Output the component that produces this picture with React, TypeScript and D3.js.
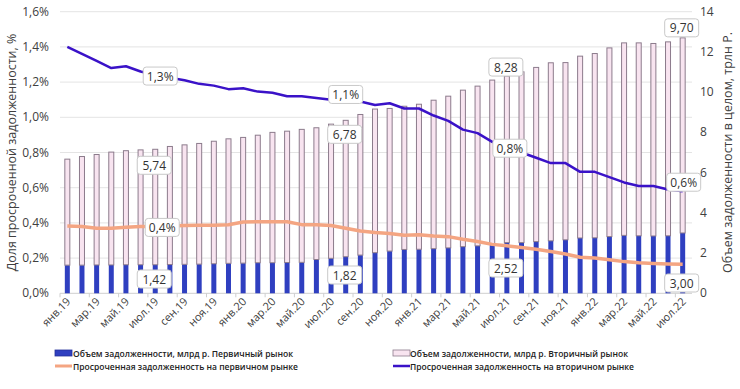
import React from 'react';
import * as d3 from 'd3';

// categories (monthly, янв.19 .. июл.22)
const months = [
  'янв.19', 'фев.19', 'мар.19', 'апр.19', 'май.19', 'июн.19', 'июл.19', 'авг.19', 'сен.19', 'окт.19', 'ноя.19', 'дек.19',
  'янв.20', 'фев.20', 'мар.20', 'апр.20', 'май.20', 'июн.20', 'июл.20', 'авг.20', 'сен.20', 'окт.20', 'ноя.20', 'дек.20',
  'янв.21', 'фев.21', 'мар.21', 'апр.21', 'май.21', 'июн.21', 'июл.21', 'авг.21', 'сен.21', 'окт.21', 'ноя.21', 'дек.21',
  'янв.22', 'фев.22', 'мар.22', 'апр.22', 'май.22', 'июн.22', 'июл.22',
];

// debt volume, трлн р.
const primaryVolume = [
  1.40, 1.40, 1.41, 1.41, 1.42, 1.42, 1.42, 1.43, 1.44, 1.45, 1.47, 1.49, 1.50,
  1.52, 1.52, 1.53, 1.54, 1.68, 1.74, 1.82, 1.90, 2.02, 2.10, 2.18, 2.19, 2.22,
  2.26, 2.32, 2.36, 2.47, 2.52, 2.52, 2.57, 2.61, 2.66, 2.75, 2.76, 2.82, 2.88,
  2.86, 2.85, 2.86, 3.00,
];
const secondaryVolume = [
  5.27, 5.40, 5.49, 5.61, 5.67, 5.71, 5.74, 5.87, 5.94, 6.00, 6.09, 6.19, 6.25,
  6.34, 6.48, 6.53, 6.61, 6.55, 6.67, 6.78, 6.99, 7.14, 7.09, 7.12, 7.21, 7.38,
  7.54, 7.78, 7.94, 8.13, 8.28, 8.49, 8.66, 8.85, 8.81, 9.04, 9.16, 9.38, 9.57,
  9.59, 9.57, 9.64, 9.70,
];

// overdue share, %
const primaryOverdue = [
  0.383, 0.38, 0.37, 0.37, 0.375, 0.38, 0.38, 0.383, 0.385, 0.387, 0.387, 0.39, 0.405,
  0.407, 0.407, 0.407, 0.39, 0.39, 0.385, 0.37, 0.354, 0.345, 0.34, 0.33, 0.333, 0.326,
  0.322, 0.307, 0.294, 0.278, 0.27, 0.26, 0.25, 0.237, 0.223, 0.205, 0.20, 0.19, 0.18,
  0.174, 0.17, 0.167, 0.165,
];
const secondaryOverdue = [
  1.40, 1.36, 1.32, 1.28, 1.29, 1.26, 1.24, 1.225, 1.21, 1.19, 1.18, 1.16, 1.165,
  1.146, 1.14, 1.12, 1.12, 1.11, 1.10, 1.09, 1.09, 1.07, 1.08, 1.05, 1.05, 1.01,
  0.98, 0.93, 0.91, 0.86, 0.83, 0.80, 0.77, 0.74, 0.74, 0.69, 0.69, 0.66, 0.63,
  0.61, 0.61, 0.59, 0.58,
];

const leftTicks = [0, 0.2, 0.4, 0.6, 0.8, 1.0, 1.2, 1.4, 1.6];
const rightTicks = [0, 2, 4, 6, 8, 10, 12, 14];

// data labels: which month, which series, text
const labelMonths = [6, 19, 30, 42];
const primaryLabels = ['1,42', '1,82', '2,52', '3,00'];
const secondaryLabels = ['5,74', '6,78', '8,28', '9,70'];
const secondaryPctLabels = ['1,3%', '1,1%', '0,8%', '0,6%'];
const primaryPctLabel = '0,4%';

const legendItems = [
  'Объем задолженности, млрд р. Первичный рынок',
  'Объем задолженности, млрд р. Вторичный рынок',
  'Просроченная задолженность на первичном рынке',
  'Просроченная задолженность на вторичном рынке',
];

const W = 740;
const H = 389;
const left = 60;
const right = 692;
const top = 11.7;
const bottom = 293.3;

const BLUE = '#2f3fc0';
const PINK = '#f8e4f0';
const PINK_EDGE = '#8c7b8c';
const SALMON = '#f4a582';
const VIOLET = '#3a12c8';
const FONT = '"Open Sans", "Noto Sans", sans-serif';

const fmt = (v: number) => v.toFixed(1).replace('.', ',') + '%';

const Callout = ({ x, y, text }: { x: number; y: number; text: string }) => {
  const w = text.length * 7 + 6;
  const h = 18;
  return (
    <g>
      <rect x={x - w / 2} y={y - h / 2} width={w} height={h} rx={3} fill="#fff" stroke="#c9c9c9" strokeWidth={1} />
      <text x={x} y={y + 4.5} textAnchor="middle" fontSize={12} fill="#333" fontFamily={FONT}>{text}</text>
    </g>
  );
};

export default function App() {
  const idx = months.map((_, i) => i);
  const x = d3.scaleBand<number>().domain(idx).range([left, 690]).paddingInner(0);
  const yPct = d3.scaleLinear().domain([0, 1.6]).range([bottom, top]);
  const yVol = d3.scaleLinear().domain([0, 14]).range([bottom, top]);
  const cx = (i: number) => (x(i) as number) + x.bandwidth() / 2;
  const bw = 5;

  const line = (vals: number[]) =>
    d3.line<number>().x((_, i) => cx(i)).y((d) => yPct(d))(vals) as string;

  return (
    <svg width={W} height={H} style={{ position: 'absolute', left: 0, top: 0, background: '#fff' }}>
      {/* grid */}
      {leftTicks.map((t) => (
        <line key={t} x1={left} x2={right} y1={yPct(t)} y2={yPct(t)} stroke={t === 0 ? '#cfcfcf' : '#e4e4e4'} strokeWidth={1} />
      ))}
      {/* small ticks on the category axis */}
      {idx.filter((i) => i % 2 === 0).map((i) => (
        <line key={i} x1={x(i) as number} x2={x(i) as number} y1={bottom} y2={bottom + 4} stroke="#cfcfcf" />
      ))}

      {/* left axis */}
      {leftTicks.map((t) => (
        <text key={t} x={49} y={yPct(t) + 4} textAnchor="end" fontSize={12} fill="#404040" fontFamily={FONT}>{fmt(t)}</text>
      ))}
      {/* right axis */}
      {rightTicks.map((t) => (
        <text key={t} x={700} y={yVol(t) + 4} fontSize={12} fill="#404040" fontFamily={FONT}>{t}</text>
      ))}
      <text transform={`translate(16,${(top + bottom) / 2}) rotate(-90)`} textAnchor="middle" fontSize={12.5} fill="#404040" fontFamily={FONT}>
        Доля просроченной задолженности, %
      </text>
      <text transform={`translate(732,${(top + bottom) / 2}) rotate(-90)`} textAnchor="middle" fontSize={12.5} fill="#404040" fontFamily={FONT}>
        Объем задолженности в целом, трлн Р.
      </text>

      {/* x labels */}
      {idx.filter((i) => i % 2 === 0).map((i) => (
        <text key={i} transform={`translate(${cx(i) + 4},${bottom + 9}) rotate(-45)`} textAnchor="end" fontSize={11} fill="#404040" fontFamily={FONT}>
          {months[i]}
        </text>
      ))}

      {/* stacked bars */}
      {idx.map((i) => (
        <g key={i}>
          <rect x={cx(i) - bw / 2} y={yVol(primaryVolume[i])} width={bw} height={bottom - yVol(primaryVolume[i])} fill={BLUE} />
          <rect
            x={cx(i) - bw / 2}
            y={yVol(primaryVolume[i] + secondaryVolume[i])}
            width={bw}
            height={yVol(primaryVolume[i]) - yVol(primaryVolume[i] + secondaryVolume[i])}
            fill={PINK}
            stroke={PINK_EDGE}
            strokeWidth={1}
          />
        </g>
      ))}

      {/* lines */}
      <path d={line(primaryOverdue)} fill="none" stroke={SALMON} strokeWidth={3.5} strokeLinejoin="round" />
      <path d={line(secondaryOverdue)} fill="none" stroke={VIOLET} strokeWidth={2.5} strokeLinejoin="round" />

      {/* callouts */}
      {labelMonths.map((m, k) => {
        const tot = primaryVolume[m] + secondaryVolume[m];
        const dy = [16, 14, -9, -10][k];
        return <Callout key={'s' + k} x={cx(m) - 1} y={yVol(tot) + dy} text={secondaryLabels[k]} />;
      })}
      {labelMonths.map((m, k) => (
        <Callout key={'p' + k} x={cx(m) - 1} y={[279, 275, 268, 283][k]} text={primaryLabels[k]} />
      ))}
      {labelMonths.map((m, k) => (
        <Callout key={'v' + k} x={cx(m) + [5, 0, 3, 1][k]} y={yPct(secondaryOverdue[m]) + [1, -7, 1, -9][k]} text={secondaryPctLabels[k]} />
      ))}
      <Callout x={cx(labelMonths[0]) + 7} y={yPct(primaryOverdue[labelMonths[0]]) + 1} text={primaryPctLabel} />

      {/* legend */}
      <g fontFamily={FONT} fontSize={9.5} fontWeight={600} fill="#222">
        <rect x={55} y={350} width={17} height={6} fill={BLUE} stroke="#24309a" strokeWidth={0.8} />
        <text x={73} y={356.5} textLength={220} lengthAdjust="spacingAndGlyphs">{legendItems[0]}</text>
        <line x1={55} x2={72} y1={366} y2={366} stroke={SALMON} strokeWidth={3} />
        <text x={73} y={369.5} textLength={225} lengthAdjust="spacingAndGlyphs">{legendItems[2]}</text>
        <rect x={393} y={350} width={17} height={6} fill={PINK} stroke={PINK_EDGE} strokeWidth={0.8} />
        <text x={410} y={356.5} textLength={218} lengthAdjust="spacingAndGlyphs">{legendItems[1]}</text>
        <line x1={393} x2={410} y1={366} y2={366} stroke={VIOLET} strokeWidth={2.5} />
        <text x={410} y={369.5} textLength={224} lengthAdjust="spacingAndGlyphs">{legendItems[3]}</text>
      </g>
    </svg>
  );
}
